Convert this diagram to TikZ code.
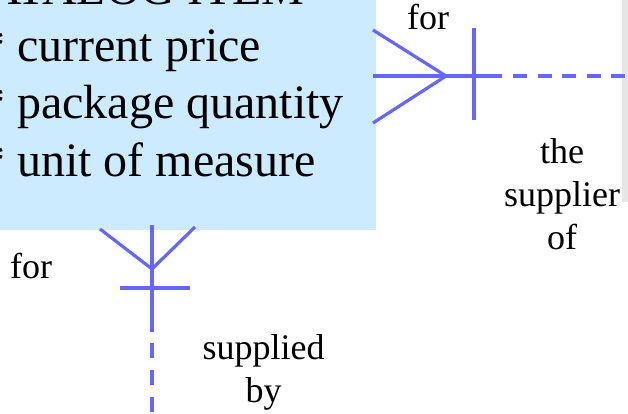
\documentclass[tikz,border=0pt]{standalone}
\usepackage{fontspec}
\setmainfont{Liberation Serif}
\definecolor{relblue}{HTML}{6666FF}
\definecolor{boxblue}{HTML}{CCEBFF}
\definecolor{stripgrey}{HTML}{E6E6E6}
\tikzset{
  rel/.style={draw=relblue, line width=3.2pt},
  reldash/.style={rel, dash pattern=on 14pt off 10.5pt},
  reldashv/.style={rel, dash pattern=on 15pt off 12pt},
  attr/.style={anchor=base west, inner sep=0pt, font=\fontsize{48}{57}\selectfont},
  lab/.style={anchor=base, inner sep=0pt, align=center, font=\fontsize{36}{43}\selectfont},
}
\begin{document}
\begin{tikzpicture}[x=1pt,y=-1pt]
\useasboundingbox (0,0) rectangle (628,414);
\clip (0,0) rectangle (628,414);
% grey strip of a neighbouring entity
\fill[stripgrey] (622,-10) rectangle (640,202);
% entity box
\node[fill=boxblue, inner sep=0pt, minimum width=576pt, minimum height=330pt, anchor=south east] (item) at (376,230) {};
\node[attr] (title) at (-45,5) {CATALOG ITEM};
\node[attr] (a1) at (-19,62) {* current price};
\node[attr] (a2) at (-19,118.5) {* package quantity};
\node[attr] (a3) at (-19,176.5) {* unit of measure};
% right relationship
\coordinate (rp1) at (373,30);
\coordinate (rp2) at (373,76);
\coordinate (rp3) at (373,123);
\coordinate (rfoot) at (446,76);
\coordinate (rtt) at (474,28);
\coordinate (rtb) at (474,120);
\coordinate (rmid) at (502,76);
\coordinate (rds) at (513,76);
\coordinate (rend) at (625,76);
\draw[rel] (rp1) -- (rfoot) -- (rp3);
\draw[rel] (rp2) -- (rmid);
\draw[rel] (rtt) -- (rtb);
\draw[reldash] (rds) -- (rend);
\node[lab] (rfor) at (428,30) {for};
\node[lab] (rsup) at (562,249) {the\\supplier\\of};
% bottom relationship
\coordinate (bp1) at (100,229);
\coordinate (bp2) at (152,225);
\coordinate (bp3) at (195,227);
\coordinate (bfoot) at (152,269);
\coordinate (btl) at (120,288);
\coordinate (btr) at (190,288);
\coordinate (bmid) at (152,332);
\coordinate (bds) at (152,343);
\coordinate (bend) at (152,420);
\draw[rel] (bp1) -- (bfoot) -- (bp3);
\draw[rel] (bp2) -- (bmid);
\draw[rel] (btl) -- (btr);
\draw[reldashv] (bds) -- (bend);
\node[lab, anchor=base west] (bfor) at (10,278) {for};
\node[lab] (bsup) at (263.5,402) {supplied\\by};
\end{tikzpicture}
\end{document}
